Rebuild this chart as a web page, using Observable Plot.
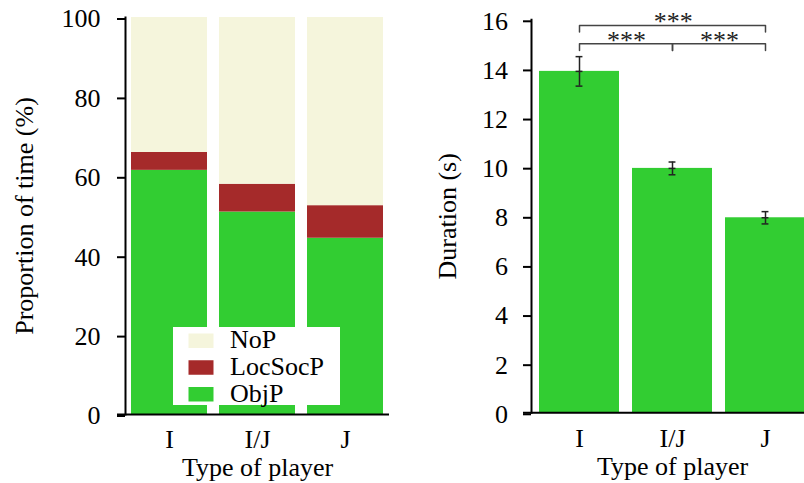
<!DOCTYPE html>
<html><head><meta charset="utf-8">
<script src="https://cdn.jsdelivr.net/npm/d3@7"></script>
<script src="https://cdn.jsdelivr.net/npm/@observablehq/plot@0.6"></script>
<style>
body{margin:0;background:#fff;}
#wrap{position:relative;width:804px;height:483px;overflow:hidden;background:#fff;}
#left,#right{position:absolute;top:0;height:483px;}
#left{left:0;width:400px;}
#right{left:400px;width:413px;}
#legend{position:absolute;left:0;top:0;pointer-events:none;}
svg{max-width:none !important;}
</style></head><body>
<div id="wrap"><div id="left"></div><div id="right"></div></div>
<script>
// ---- data ----
const players = ["I", "I/J", "J"];
const activities = ["ObjP", "LocSocP", "NoP"];
const objP = [61.5, 51.0, 44.4];
const locSocP = [4.5, 7.0, 8.2];
const noP = [34.0, 42.0, 47.4];
const activityColors = ["#32cd32", "#a52a2a", "#f5f5dc"];
const durationMean = [13.9, 9.95, 7.94];
const durationErr = [0.6, 0.26, 0.25];
const propTicks = [0, 20, 40, 60, 80, 100];
const durTicks = [0, 2, 4, 6, 8, 10, 12, 14, 16];
const comparisons = [
  {from: "I", to: "J", level: 15.77, label: "***"},
  {from: "I", to: "I/J", level: 15.02, label: "***"},
  {from: "I/J", to: "J", level: 15.02, label: "***"}
];
const bracketDrop = 0.27;

const font = '"Liberation Serif", "Times New Roman", serif';
const fs = 26;

// ---- derived tables ----
const seriesValues = [objP, locSocP, noP];
const stackData = [];
players.forEach((p, i) => activities.forEach((a, j) => stackData.push({player: p, activity: a, value: seriesValues[j][i]})));
const durData = players.map((p, i) => ({player: p, mean: durationMean[i], lo: durationMean[i] - durationErr[i], hi: durationMean[i] + durationErr[i]}));
const bracketPts = [];
comparisons.forEach((c, k) => {
  bracketPts.push({id: k, x: c.from, y: c.level - bracketDrop});
  bracketPts.push({id: k, x: c.from, y: c.level});
  bracketPts.push({id: k, x: c.to, y: c.level});
  bracketPts.push({id: k, x: c.to, y: c.level - bracketDrop});
});

// ---- left panel ----
const L = {width: 400, height: 483, ml: 125, mr: 11, mt: 17, mb: 69, pi: 0.136, po: 0.068};
const left = Plot.plot({
  width: L.width, height: L.height,
  marginLeft: L.ml, marginRight: L.mr, marginTop: L.mt, marginBottom: L.mb,
  style: {fontFamily: font, fontSize: fs + "px", color: "black", background: "transparent", overflow: "visible", maxWidth: "none"},
  x: {domain: players, paddingInner: L.pi, paddingOuter: L.po, label: null},
  y: {domain: [0, 100], label: null},
  color: {domain: activities, range: activityColors},
  marks: [
    Plot.barY(stackData, {x: "player", y: "value", fill: "activity"}),
    Plot.frame({anchor: "left", stroke: "black", strokeWidth: 2}),
    Plot.ruleY([0], {insetLeft: -8, stroke: "black", strokeWidth: 2}),
    Plot.axisY({ticks: propTicks, tickSize: 8, tickPadding: 17, strokeWidth: 2, label: null, fontSize: fs, dy: 1.5}),
    Plot.axisX({tickSize: 0, tickPadding: 15, label: null, fontSize: fs}),
    Plot.text(["Type of player"], {text: d => d, frameAnchor: "bottom", lineAnchor: "bottom", dy: 61, fontSize: fs}),
    Plot.text(["Proportion of time (%)"], {text: d => d, frameAnchor: "left", textAnchor: "middle", lineAnchor: "middle", rotate: -90, dx: -101, fontSize: fs})
  ]
});
document.getElementById("left").appendChild(left);

// legend overlay
const leg = d3.select("#left").append("svg").attr("id", "legend").attr("width", L.width).attr("height", L.height);
leg.append("rect").attr("x", 173).attr("y", 327).attr("width", 167).attr("height", 78).attr("fill", "white");
const legOrder = activities.slice().reverse();
legOrder.forEach((a, i) => {
  const c = activityColors[activities.indexOf(a)];
  leg.append("rect").attr("x", 188.5).attr("y", 333.5 + 26.75 * i).attr("width", 25).attr("height", 14.5).attr("fill", c);
  leg.append("text").attr("x", 230).attr("y", 348 + 26.75 * i).attr("font-family", font).attr("font-size", fs).attr("fill", "black").text(a);
});

// ---- right panel ----
const R = {width: 413, height: 483, ml: 131, mr: 0, mt: 19.3, mb: 70.7, pi: 0.135, po: 0.071};
const stepR = (R.width - R.ml - R.mr) / (players.length - R.pi + 2 * R.po);
const bwR = stepR * (1 - R.pi);
const capInset = (bwR - 8) / 2;
const right = Plot.plot({
  width: R.width, height: R.height,
  marginLeft: R.ml, marginRight: R.mr, marginTop: R.mt, marginBottom: R.mb,
  style: {fontFamily: font, fontSize: fs + "px", color: "black", background: "transparent", overflow: "visible", maxWidth: "none"},
  x: {domain: players, paddingInner: R.pi, paddingOuter: R.po, label: null},
  y: {domain: [0, 16], label: null},
  marks: [
    Plot.barY(durData, {x: "player", y: "mean", fill: activityColors[0]}),
    Plot.ruleX(durData, {x: "player", y1: "lo", y2: "hi", stroke: "#222", strokeWidth: 1.5}),
    Plot.tickY(durData, {x: "player", y: "hi", stroke: "#222", strokeWidth: 1.5, insetLeft: capInset, insetRight: capInset}),
    Plot.tickY(durData, {x: "player", y: "lo", stroke: "#222", strokeWidth: 1.5, insetLeft: capInset, insetRight: capInset}),
    Plot.tickY(durData, {x: "player", y: "mean", stroke: "#222", strokeWidth: 1.5, insetLeft: capInset, insetRight: capInset}),
    Plot.line(bracketPts, {x: "x", y: "y", z: "id", stroke: "#444", strokeWidth: 1.5}),
    Plot.text(comparisons, {x: "from", y: "level", text: "label", lineAnchor: "bottom", dy: 5, fontSize: fs, fill: "#222"}),
    Plot.frame({anchor: "left", stroke: "black", strokeWidth: 2}),
    Plot.ruleY([0], {insetLeft: -8, stroke: "black", strokeWidth: 2}),
    Plot.axisY({ticks: durTicks, tickSize: 8, tickPadding: 15.5, strokeWidth: 2, label: null, fontSize: fs, dy: 1.5}),
    Plot.axisX({tickSize: 0, tickPadding: 15.5, label: null, fontSize: fs}),
    Plot.text(["Type of player"], {text: d => d, frameAnchor: "bottom", lineAnchor: "bottom", dy: 62, fontSize: fs}),
    Plot.text(["Duration (s)"], {text: d => d, frameAnchor: "left", textAnchor: "middle", lineAnchor: "middle", rotate: -90, dx: -84, fontSize: fs})
  ]
});
document.getElementById("right").appendChild(right);
// shift significance labels to the midpoint of each compared pair (half a band step per category apart)
d3.select(right).selectAll("text").filter(function() { return this.textContent === "***"; })
  .each(function(d, i) {
    const c = comparisons[i];
    const off = (players.indexOf(c.to) - players.indexOf(c.from)) * stepR / 2;
    const t = d3.select(this).attr("transform") || "";
    d3.select(this).attr("transform", `translate(${off},0) ` + t);
  });
</script>
</body></html>
